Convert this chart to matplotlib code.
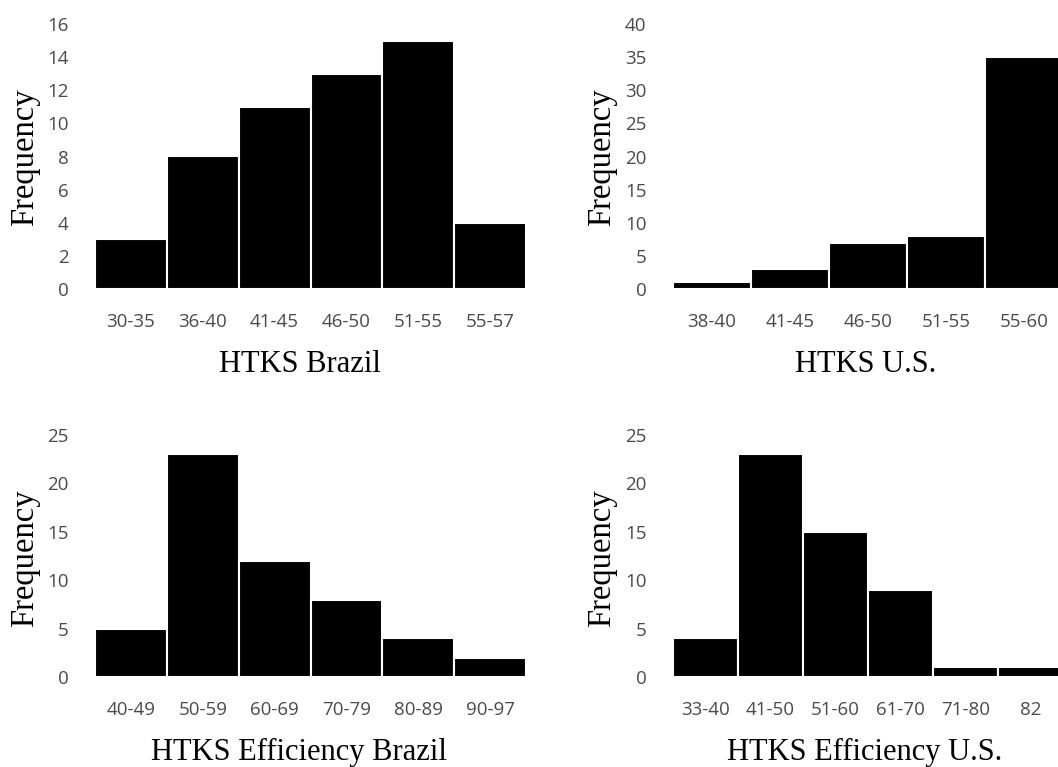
import matplotlib
matplotlib.use("Agg")
import matplotlib.pyplot as plt

# ---- data ----
brazil_cats = ["30-35", "36-40", "41-45", "46-50", "51-55", "55-57"]
brazil_vals = [3, 8, 11, 13, 15, 4]

us_cats = ["38-40", "41-45", "46-50", "51-55", "55-60"]
us_vals = [1, 3, 7, 8, 35]

eff_brazil_cats = ["40-49", "50-59", "60-69", "70-79", "80-89", "90-97"]
eff_brazil_vals = [5, 23, 12, 8, 4, 2]

eff_us_cats = ["33-40", "41-50", "51-60", "61-70", "71-80", "82"]
eff_us_vals = [4, 23, 15, 9, 1, 1]

titles = ["HTKS Brazil", "HTKS U.S.", "HTKS Efficiency Brazil", "HTKS Efficiency U.S."]
yticks_list = [list(range(0, 17, 2)), list(range(0, 41, 5)), list(range(0, 26, 5)), list(range(0, 26, 5))]

W, H = 1058, 767
fig = plt.figure(figsize=(W / 100, H / 100), dpi=100)

def frac(x0, y_top, x1, y_bot):
    return [x0 / W, 1 - y_bot / H, (x1 - x0) / W, (y_bot - y_top) / H]

positions = [
    frac(95, 24, 526, 289),
    frac(673, 24, 1063, 289),
    frac(95, 435, 526, 677),
    frac(673, 435, 1063, 677),
]
# label centers in pixel coords (x, y)
xlabel_px = [(300, 364), (866, 364), (299, 752), (865, 752)]
ylabel_px = [(25, 157), (602, 157), (25, 558), (602, 558)]

datasets = [
    (brazil_cats, brazil_vals),
    (us_cats, us_vals),
    (eff_brazil_cats, eff_brazil_vals),
    (eff_us_cats, eff_us_vals),
]

tick_color = "#4a4a4a"
for i, ((cats, vals), pos) in enumerate(zip(datasets, positions)):
    ax = fig.add_axes(pos)
    x = list(range(len(cats)))
    ax.bar(x, vals, width=1.0, color="black", edgecolor="white", linewidth=1.5)
    ax.set_xlim(-0.5, len(cats) - 0.5)
    yt = yticks_list[i]
    ax.set_ylim(0, yt[-1])
    ax.set_yticks(yt)
    ax.set_xticks(x)
    ax.set_xticklabels(cats)
    for s in ax.spines.values():
        s.set_visible(False)
    ax.tick_params(axis="both", length=0, labelsize=13.5, colors=tick_color)
    ax.tick_params(axis="y", pad=19)
    ax.tick_params(axis="x", pad=17)
    for lab in ax.get_xticklabels() + ax.get_yticklabels():
        lab.set_fontfamily("Open Sans")
    fig.text(xlabel_px[i][0] / W, 1 - xlabel_px[i][1] / H, titles[i],
             family="Liberation Serif", fontsize=22, ha="center", va="center", color="black")
    fig.text(ylabel_px[i][0] / W, 1 - ylabel_px[i][1] / H, "Frequency",
             family="Liberation Serif", fontsize=23.5, ha="center", va="center",
             rotation=90, color="black")

fig.savefig("out.png", dpi=100, facecolor="white")
